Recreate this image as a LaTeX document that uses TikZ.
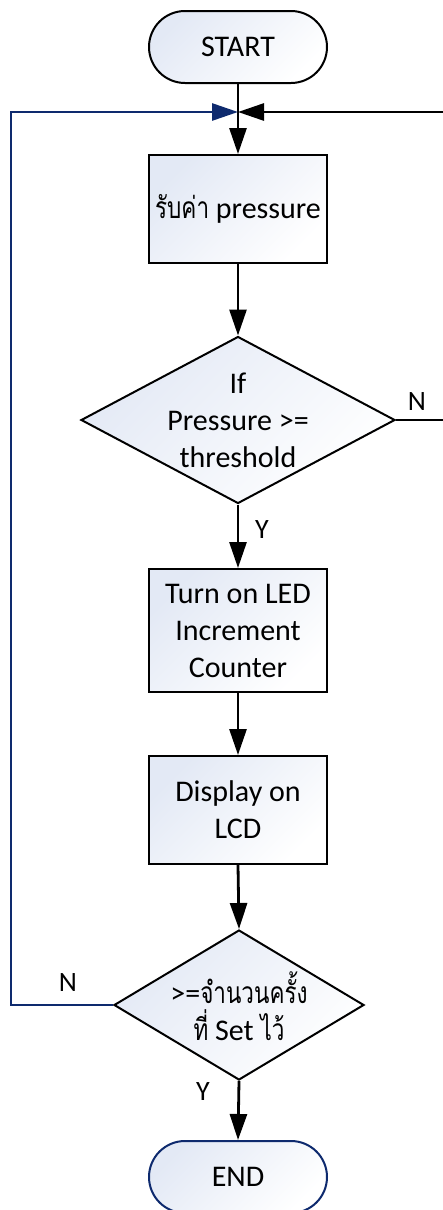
\documentclass[tikz,border=0pt]{standalone}
\usepackage{fontspec}
\setmainfont{Carlito}
\newfontfamily\thaifont[Script=Thai,FakeStretch=0.75]{Loma}
\usetikzlibrary{arrows.meta,shapes.geometric}
\definecolor{navy}{HTML}{0E2A6E}
\definecolor{fillc}{HTML}{E3E9F5}
\begin{document}
\begin{tikzpicture}[x=1pt,y=-1pt,
  shadefill/.style={top color=fillc,bottom color=white,shading angle=45},
  proc/.style={draw=black,line width=2pt,shadefill,minimum width=178pt,align=center,inner sep=0pt,font=\fontsize{30}{37}\selectfont},
  term/.style={proc,rounded corners=36pt,minimum height=72pt},
  dec/.style={draw=black,line width=2pt,shadefill,diamond,inner sep=0pt},
  txt/.style={align=center,inner sep=0pt,font=\fontsize{30}{37}\selectfont},
  lbl/.style={inner sep=0pt,font=\fontsize{28}{30}\selectfont},
  flow/.style={line width=2.8pt,-{Triangle[length=26pt,width=17pt]}},
  ]
\useasboundingbox[fill=white] (0,0) rectangle (443,1210);

\node[term] (start) at (238,47) {START};
\coordinate (join) at (238,112);
\node[proc,minimum height=108pt] (box1) at (238,209) {{\thaifont รับค่า} pressure};
\node[dec,minimum width=314pt,minimum height=167pt] (d1) at (238,420) {};
\node[txt] (d1t) at (238,420) {If\\Pressure >=\\threshold};
\node[proc,minimum height=123pt] (box2) at (238,630.5) {Turn on LED\\Increment\\Counter};
\node[proc,minimum height=108pt] (box3) at (238,810) {Display on\\LCD};
\node[dec,minimum width=250pt,minimum height=150pt] (d2) at (239,1005) {};
\node[txt] (d2t) at (239,1006) {>={\thaifont จำนวนครั้ง}\\{\thaifont ที่} Set {\thaifont ไว้}};
\node[term,draw=navy] (end) at (238,1177) {END};

\coordinate (rc1) at (448,420);
\coordinate (rc2) at (448,112);
\coordinate (lc1) at (11,1005);
\coordinate (lc2) at (11,112);

\draw[line width=2.8pt] (start.south) -- (join);
\draw[flow] (join) -- (box1.north);
\draw[flow] (box1.south) -- (d1.north);
\draw[flow] (d1.south) -- (box2.north);
\draw[flow] (box2.south) -- (box3.north);
\draw[flow] (box3.south) -- (d2.north);
\draw[flow] (d2.south) -- (end.north);
\draw[flow] (d1.east) -- (rc1) -- (rc2) -- (join);
\draw[flow,navy] (d2.west) -- (lc1) -- (lc2) -- (join);

\node[lbl] (n1) at (417,402) {N};
\node[lbl] (y1) at (262,530) {Y};
\node[lbl] (n2) at (68,983) {N};
\node[lbl] (y2) at (203,1092) {Y};
\end{tikzpicture}
\end{document}
